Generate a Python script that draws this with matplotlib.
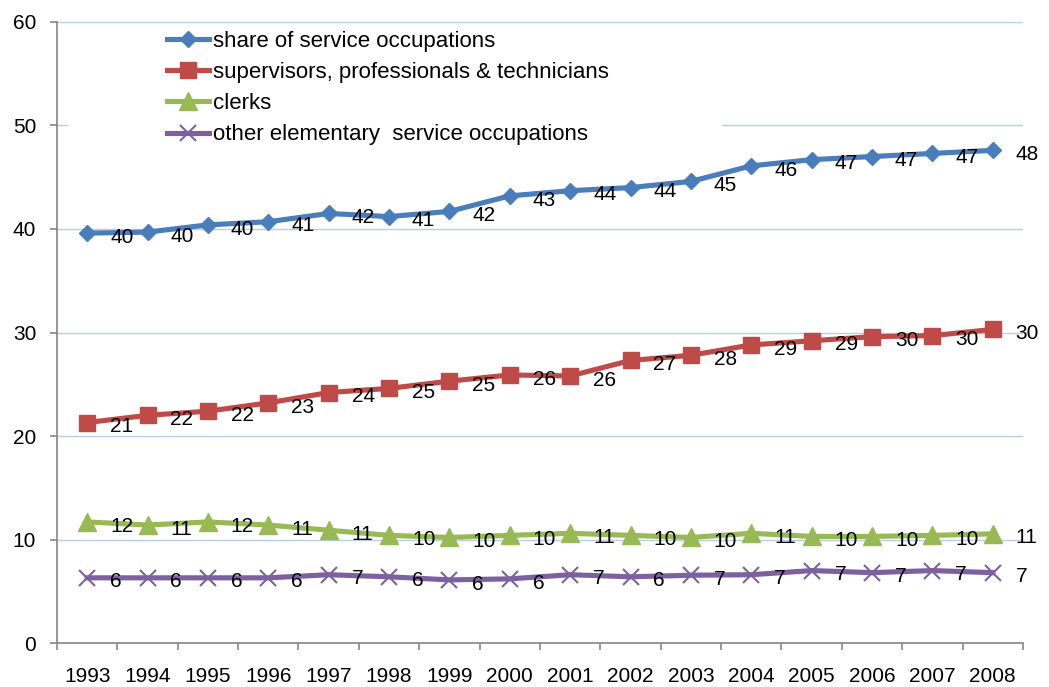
import matplotlib
matplotlib.use("Agg")
import matplotlib.pyplot as plt
from matplotlib.patches import Rectangle

plt.rcParams['font.family'] = ['Liberation Sans', 'DejaVu Sans']

# data
years = ["1993", "1994", "1995", "1996", "1997", "1998", "1999", "2000",
         "2001", "2002", "2003", "2004", "2005", "2006", "2007", "2008"]
service = [39.6, 39.7, 40.4, 40.7, 41.5, 41.2, 41.7, 43.2,
           43.7, 44.0, 44.6, 46.1, 46.7, 47.0, 47.3, 47.6]
supervisors = [21.3, 22.0, 22.4, 23.2, 24.2, 24.6, 25.3, 25.9,
               25.8, 27.3, 27.8, 28.8, 29.2, 29.6, 29.7, 30.3]
clerks = [11.7, 11.4, 11.7, 11.4, 10.9, 10.4, 10.2, 10.4,
          10.6, 10.4, 10.2, 10.6, 10.3, 10.3, 10.4, 10.55]
elementary = [6.3, 6.3, 6.3, 6.3, 6.6, 6.4, 6.1, 6.2,
              6.6, 6.4, 6.55, 6.6, 7.0, 6.8, 7.0, 6.8]

series = [
    ("share of service occupations", service, "#4a7ebb", "D", 8),
    ("supervisors, professionals & technicians", supervisors, "#be4b48", "s", 11.5),
    ("clerks", clerks, "#98b954", "^", 13),
    ("other elementary  service occupations", elementary, "#7d60a0", "x", 12),
]

fig = plt.figure(figsize=(10.49, 6.87), dpi=100)
ax = fig.add_axes([0.0543, 0.064, 0.9209, 0.904])

x = list(range(len(years)))
for name, vals, col, mk, ms in series:
    if mk == "x":
        ax.plot(x, vals, color=col, lw=3.7, marker=mk, ms=ms, mew=1.5,
                label=name, zorder=3)
    else:
        ax.plot(x, vals, color=col, lw=3.7, marker=mk, ms=ms, mec=col,
                label=name, zorder=3)
    for xi, v in zip(x, vals):
        ax.annotate("%.0f" % v, (xi, v), xytext=(16.5, -3),
                    textcoords="offset points", ha="left", va="center",
                    fontsize=15, zorder=4, annotation_clip=False)

ax.set_xlim(-0.5, 15.5)
ax.set_ylim(0, 60)
ax.set_yticks(range(0, 61, 10))
ax.set_xticks(x)
ax.set_xticklabels(years)
ax.set_xticks([i - 0.5 for i in range(len(years) + 1)], minor=True)

ax.grid(axis="y", color="#b9cde5", lw=1, zorder=0)
ax.set_axisbelow(True)

for s in ["top", "right"]:
    ax.spines[s].set_visible(False)
for s in ["left", "bottom"]:
    ax.spines[s].set_color("#868686")
    ax.spines[s].set_linewidth(1.2)

ax.tick_params(axis="y", length=5, width=1.2, color="#868686", pad=10, labelsize=15)
ax.tick_params(axis="x", which="major", length=0, pad=17, labelsize=15)
ax.tick_params(axis="x", which="minor", length=5, width=1.2, color="#868686")

# white box behind the legend hides part of the gridline
ax.add_patch(Rectangle((0.011, 0.80), 0.677, 0.19, transform=ax.transAxes,
                       facecolor="white", edgecolor="none", zorder=1))

leg = ax.legend(loc="upper left", bbox_to_anchor=(0.114, 0.986), frameon=False,
                fontsize=16, handlelength=1.9, handletextpad=0.15,
                labelspacing=0.46, borderpad=0, borderaxespad=0)

fig.savefig("out.png", dpi=100)
